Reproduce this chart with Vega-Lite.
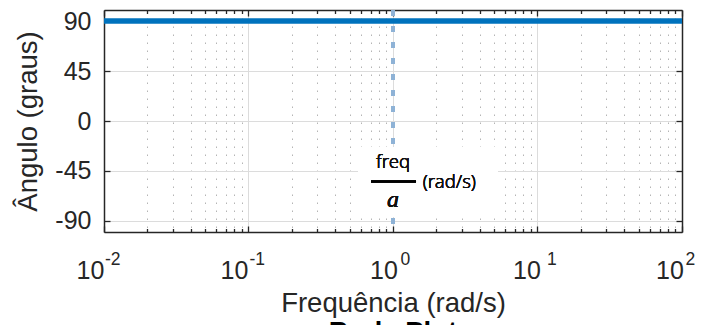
{
  "$schema": "https://vega.github.io/schema/vega-lite/v6.json",
  "width": 578,
  "height": 222,
  "autosize": {"type": "none"},
  "padding": {"left": 104, "top": 10, "right": 29, "bottom": 93},
  "background": "white",
  "view": {"stroke": null},
  "title": {"text": "Bode Plot", "orient": "bottom", "anchor": "middle", "frame": "group", "font": "Liberation Sans", "fontSize": 27.5, "fontWeight": "bold", "color": "#000000", "offset": 2},
  "config": {
    "font": "Liberation Sans",
    "axis": {"labelFont": "Liberation Sans", "titleFont": "Liberation Sans", "labelColor": "#262626", "titleColor": "#262626", "domainColor": "#262626", "tickColor": "#262626", "domainWidth": 1.5, "tickWidth": 1.3, "labelFlush": false, "labelOverlap": false, "labelBound": false, "titleFontWeight": "normal"}
  },
  "resolve": {"axis": {"x": "independent", "y": "independent"}},
  "data": {"values": [
    {"freq": 0.01, "phase": 90},
    {"freq": 0.1, "phase": 90},
    {"freq": 1, "phase": 90},
    {"freq": 10, "phase": 90},
    {"freq": 100, "phase": 90}
  ]},
  "layer": [
    {
      "mark": {"type": "line", "color": "#0072BD", "strokeWidth": 5.5, "clip": true},
      "encoding": {
        "x": {"field": "freq", "type": "quantitative",
          "scale": {"type": "log", "domain": [0.01, 100], "nice": false},
          "axis": {"orient": "bottom", "title": null, "labels": false,
            "values": [0.01,0.02,0.03,0.04,0.05,0.06,0.07,0.08,0.09,0.1,0.2,0.3,0.4,0.5,0.6,0.7,0.8,0.9,1,2,3,4,5,6,7,8,9,10,20,30,40,50,60,70,80,90,100],
            "grid": true,
            "gridColor": {"condition": {"test": "datum.value===0.01||datum.value===0.1||datum.value===1||datum.value===10||datum.value===100", "value": "#dcdcdc"}, "value": "#b5b5b5"},
            "gridDash": {"condition": {"test": "datum.value===0.01||datum.value===0.1||datum.value===1||datum.value===10||datum.value===100", "value": []}, "value": [1.5, 6.5]},
            "gridWidth": 1,
            "ticks": true,
            "tickSize": {"condition": {"test": "datum.value===0.01||datum.value===0.1||datum.value===1||datum.value===10||datum.value===100", "value": -6}, "value": -3.5},
            "domain": true}},
        "y": {"field": "phase", "type": "quantitative",
          "scale": {"domain": [-100, 100], "nice": false, "zero": false},
          "axis": {"orient": "left", "values": [-90, -45, 0, 45, 90], "labelExpr": "'' + datum.value", "title": "Ângulo (graus)",
            "titleFontSize": 27.5, "titleX": -68, "titleBaseline": "alphabetic",
            "labelFontSize": 25, "labelPadding": 19, "tickSize": -6, "grid": true, "gridColor": "#dcdcdc", "gridWidth": 1, "domain": true}}
      }
    },
    {
      "mark": {"type": "rule", "color": "#8fb1d6", "strokeWidth": 3.5, "strokeDash": [6, 10], "opacity": 0.8},
      "encoding": {
        "x": {"datum": 1, "type": "quantitative",
          "axis": {"orient": "bottom", "title": "Frequência (rad/s)", "titleFontSize": 27.5, "titleY": 79, "titleBaseline": "alphabetic",
            "values": [0.01, 0.1, 1, 10, 100], "labelExpr": "'10'", "labelAlign": "left", "labelBaseline": "alphabetic",
            "labelOffset": {"expr": "datum.value < 0.05 ? -28 : datum.value < 0.5 ? -28.5 : datum.value < 5 ? -23.5 : datum.value < 50 ? -25 : -26.5"},
            "labelPadding": 46, "labelFontSize": 25, "ticks": false, "tickSize": 0, "domain": false, "grid": false}}
      }
    },
    {
      "mark": {"type": "rect", "fill": "white"},
      "encoding": {
        "x": {"datum": 0.573, "type": "quantitative",
          "axis": {"orient": "bottom", "title": null, "values": [0.01, 0.1, 1, 10, 100],
            "labelExpr": "'' + round(log(datum.value) / LN10)", "labelAlign": "left", "labelBaseline": "alphabetic",
            "labelOffset": {"expr": "datum.value < 0.05 ? 0.5 : datum.value < 0.5 ? 0.5 : datum.value < 5 ? 7 : datum.value < 50 ? 9 : 3"},
            "labelPadding": 32.5, "labelFontSize": 17.5, "ticks": false, "tickSize": 0, "domain": false, "grid": false}},
        "x2": {"datum": 5.33},
        "y": {"datum": -23.4, "type": "quantitative",
          "axis": {"orient": "right", "title": null, "labels": false, "values": [-90, -45, 0, 45, 90], "tickSize": -6, "grid": false, "domain": true}},
        "y2": {"datum": -86.5}
      }
    },
    {
      "mark": {"type": "text", "font": "Noto Sans", "fontSize": 18.5, "fontWeight": 300, "color": "#111111", "align": "center", "baseline": "alphabetic"},
      "encoding": {
        "x": {"datum": 1, "type": "quantitative",
          "axis": {"orient": "top", "title": null, "labels": false,
            "values": [0.01,0.02,0.03,0.04,0.05,0.06,0.07,0.08,0.09,0.1,0.2,0.3,0.4,0.5,0.6,0.7,0.8,0.9,1,2,3,4,5,6,7,8,9,10,20,30,40,50,60,70,80,90,100],
            "grid": false,
            "tickSize": {"condition": {"test": "datum.value===0.01||datum.value===0.1||datum.value===1||datum.value===10||datum.value===100", "value": -6}, "value": -3.5},
            "domain": true}},
        "y": {"datum": -42.3, "type": "quantitative", "axis": null},
        "text": {"value": "freq"}
      }
    },
    {
      "mark": {"type": "rule", "color": "#000000", "strokeWidth": 2},
      "encoding": {
        "x": {"datum": 0.705, "type": "quantitative", "axis": null},
        "x2": {"datum": 1.443},
        "y": {"datum": -54.5, "type": "quantitative", "axis": null}
      }
    },
    {
      "mark": {"type": "text", "font": "Liberation Serif", "fontStyle": "italic", "fontWeight": 300, "fontSize": 24, "color": "#111111", "align": "center", "baseline": "alphabetic"},
      "encoding": {
        "x": {"datum": 1, "type": "quantitative", "axis": null},
        "y": {"datum": -77.2, "type": "quantitative", "axis": null},
        "text": {"value": "a"}
      }
    },
    {
      "mark": {"type": "text", "font": "Noto Sans", "fontSize": 18.5, "fontWeight": 300, "color": "#111111", "align": "left", "baseline": "alphabetic"},
      "encoding": {
        "x": {"datum": 1.605, "type": "quantitative", "axis": null},
        "y": {"datum": -60.4, "type": "quantitative", "axis": null},
        "text": {"value": "(rad/s)"}
      }
    }
  ]
}
